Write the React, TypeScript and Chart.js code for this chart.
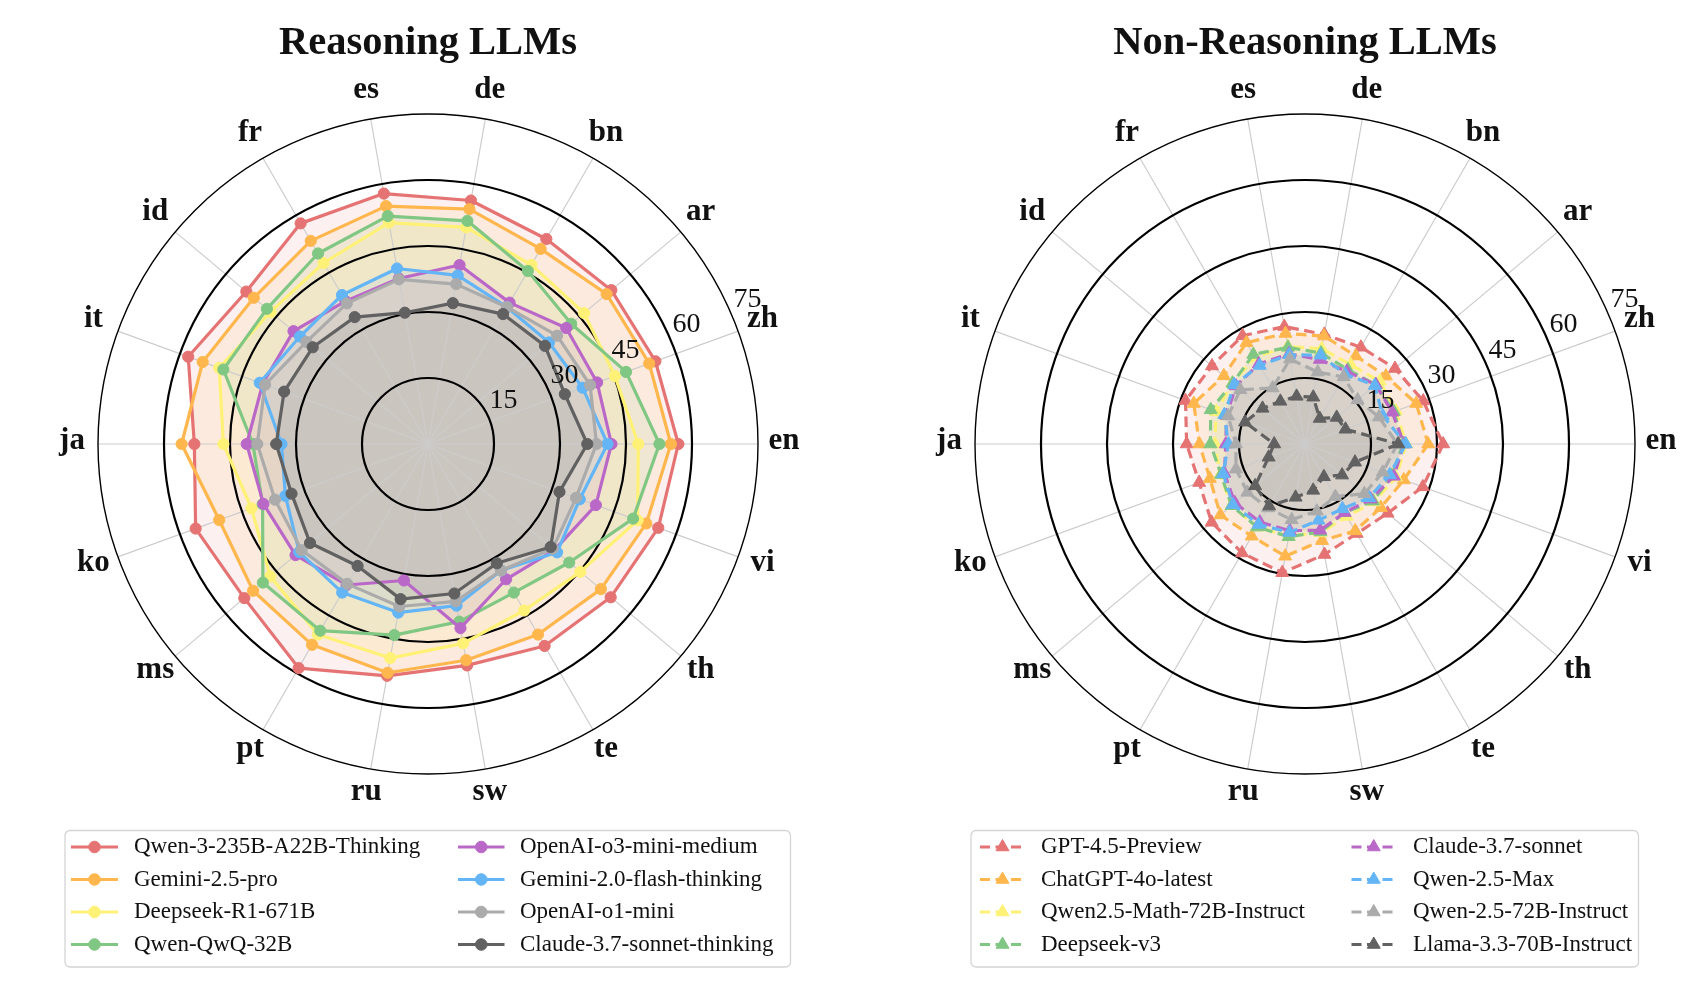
import React, { useEffect, useRef } from "react";
import { Chart, registerables } from "chart.js";

Chart.register(...registerables);

// ---------- data ----------
const categories = ["en", "zh", "ar", "bn", "de", "es", "fr", "id", "it", "ja", "ko", "ms", "pt", "ru", "sw", "te", "th", "vi"];
const radialTicks = [15, 30, 45, 60, 75];

const seriesColors = ["#e57373", "#ffb74d", "#fff176", "#81c784", "#ba68c8", "#64b5f6", "#ababab", "#616161"];

// Reasoning LLMs
const reasoningNames = [
  "Qwen-3-235B-A22B-Thinking",
  "Gemini-2.5-pro",
  "Deepseek-R1-671B",
  "Qwen-QwQ-32B",
  "OpenAI-o3-mini-medium",
  "Gemini-2.0-flash-thinking",
  "OpenAI-o1-mini",
  "Claude-3.7-sonnet-thinking",
];
const qwen3Thinking = [56.9, 55.0, 54.4, 53.8, 56.2, 57.8, 57.9, 53.9, 58.0, 53.1, 56.2, 54.5, 58.8, 53.5, 51.1, 53.0, 54.2, 55.7];
const gemini25Pro = [55.2, 53.5, 53.0, 51.2, 54.2, 54.9, 53.3, 51.7, 54.5, 56.0, 50.5, 51.9, 52.7, 52.8, 49.9, 50.0, 51.3, 52.8];
const deepseekR1 = [47.8, 45.2, 46.3, 47.0, 50.0, 51.1, 47.5, 46.7, 50.5, 46.5, 42.7, 46.8, 50.0, 49.4, 46.0, 43.7, 45.2, 50.7];
const qwenQwq = [52.6, 47.9, 42.5, 45.4, 51.5, 52.6, 50.0, 47.8, 49.5, 39.8, 40.0, 49.0, 49.0, 44.1, 41.0, 39.0, 41.9, 49.6];
const o3MiniMedium = [41.7, 40.9, 41.0, 37.1, 41.3, 38.2, 37.5, 39.9, 40.0, 41.2, 39.8, 39.3, 37.0, 31.5, 42.5, 35.5, 37.5, 40.6];
const gemini20Flash = [40.8, 37.4, 35.9, 35.9, 38.9, 40.5, 39.1, 38.0, 40.7, 33.3, 34.5, 38.2, 39.0, 38.9, 37.3, 33.2, 38.3, 36.7];
const o1Mini = [38.3, 39.2, 38.3, 35.9, 36.9, 38.0, 36.9, 36.1, 39.4, 38.8, 37.0, 37.5, 36.7, 37.5, 36.3, 33.2, 37.0, 35.8];
const claude37Thinking = [36.2, 33.1, 34.7, 34.1, 32.5, 30.3, 33.3, 34.2, 34.8, 34.5, 33.0, 35.0, 32.0, 35.8, 34.5, 31.3, 36.4, 31.8];

// Non-Reasoning LLMs
const nonReasoningNames = [
  "GPT-4.5-Preview",
  "ChatGPT-4o-latest",
  "Qwen2.5-Math-72B-Instruct",
  "Deepseek-v3",
  "Claude-3.7-sonnet",
  "Qwen-2.5-Max",
  "Qwen-2.5-72B-Instruct",
  "Llama-3.3-70B-Instruct",
];
const gpt45Preview = [31.4, 28.6, 26.7, 25.4, 25.3, 27.1, 28.4, 27.6, 28.9, 26.9, 25.6, 27.7, 28.6, 29.7, 25.5, 23.5, 24.5, 28.5];
const chatgpt4oLatest = [28.0, 26.9, 24.0, 23.1, 24.9, 25.5, 26.6, 24.1, 26.9, 24.0, 23.0, 25.1, 24.2, 25.9, 22.3, 22.8, 22.5, 23.9];
const qwenMath72B = [23.0, 22.0, 22.2, 20.8, 22.0, 22.5, 22.8, 21.5, 21.5, 20.5, 20.5, 21.8, 21.8, 21.3, 20.5, 19.0, 20.5, 22.0];
const deepseekV3 = [22.3, 21.5, 21.0, 19.5, 21.0, 22.3, 23.5, 21.5, 22.8, 21.5, 20.3, 21.8, 21.8, 21.4, 20.3, 18.0, 20.2, 21.0];
const claude37Sonnet = [22.5, 21.1, 21.0, 19.0, 19.5, 20.8, 21.0, 20.5, 19.0, 18.0, 19.5, 20.8, 20.5, 20.0, 19.9, 18.0, 19.5, 21.5];
const qwen25Max = [22.9, 18.8, 20.7, 18.3, 20.5, 20.6, 20.6, 21.0, 19.5, 17.4, 19.8, 21.4, 21.1, 20.4, 17.6, 17.0, 19.0, 20.5];
const qwen25_72B = [21.0, 17.9, 15.6, 17.6, 16.6, 19.6, 14.7, 19.2, 18.6, 15.7, 16.7, 17.1, 16.8, 17.5, 15.5, 13.8, 17.6, 18.8];
const llama33_70B = [21.2, 9.8, 9.4, 6.7, 10.8, 11.0, 11.2, 12.6, 14.5, 7.0, 8.8, 14.8, 16.3, 12.3, 10.7, 8.6, 11.0, 12.1];

const reasoningValues = [qwen3Thinking, gemini25Pro, deepseekR1, qwenQwq, o3MiniMedium, gemini20Flash, o1Mini, claude37Thinking];
const nonReasoningValues = [gpt45Preview, chatgpt4oLatest, qwenMath72B, deepseekV3, claude37Sonnet, qwen25Max, qwen25_72B, llama33_70B];

// ---------- styling ----------
const FONT = "'Liberation Serif', 'DejaVu Serif', serif";
const FILL_ALPHA = 0.11;
const H = 983;

type Series = { name: string; color: string; values: number[] };
type LegendCol = { x0: number; x1: number; text: number };
type PanelSpec = {
  key: string;
  title: string;
  left: number;
  width: number;
  padL: number;
  padR: number;
  dashed: boolean;
  marker: "circle" | "triangle";
  series: Series[];
  legendBox: [number, number, number, number];
  legendRows: number[];
  legendCols: LegendCol[];
};

function rgba(hex: string, a: number) {
  const n = parseInt(hex.slice(1), 16);
  return `rgba(${(n >> 16) & 255},${(n >> 8) & 255},${n & 255},${a})`;
}

// categories run counter-clockwise from "en" at 3 o'clock; Chart.js runs clockwise
function toChartOrder<T>(arr: T[]): T[] {
  return [arr[0], ...arr.slice(1).reverse()];
}

function drawMarker(ctx: CanvasRenderingContext2D, kind: string, x: number, y: number, r: number) {
  ctx.beginPath();
  if (kind === "triangle") {
    let a = 0;
    ctx.moveTo(x + Math.sin(a) * r, y - Math.cos(a) * r);
    a += (2 * Math.PI) / 3;
    ctx.lineTo(x + Math.sin(a) * r, y - Math.cos(a) * r);
    a += (2 * Math.PI) / 3;
    ctx.lineTo(x + Math.sin(a) * r, y - Math.cos(a) * r);
    ctx.closePath();
  } else {
    ctx.arc(x, y, r, 0, Math.PI * 2);
  }
  ctx.fill();
  ctx.stroke();
}

function makeDecor(spec: PanelSpec) {
  return {
    id: "decor-" + spec.key,
    afterDatasetDraw(chart: any, args: any) {
      if (args.index !== spec.series.length - 1) return; // after last fill
      const scale = chart.scales.r;
      const ctx: CanvasRenderingContext2D = chart.ctx;
      ctx.save();
      const outer = scale.getDistanceFromCenterForValue(scale.max);
      ctx.strokeStyle = "#cccccc";
      ctx.lineWidth = 1.2;
      for (let i = 0; i < chart.data.labels.length; i++) {
        const p = scale.getPointPosition(i, outer);
        ctx.beginPath();
        ctx.moveTo(scale.xCenter, scale.yCenter);
        ctx.lineTo(p.x, p.y);
        ctx.stroke();
      }
      ctx.strokeStyle = "#000000";
      scale.ticks.forEach((t: any) => {
        if (t.value <= scale.min) return;
        const r = scale.getDistanceFromCenterForValue(t.value);
        ctx.lineWidth = t.value >= scale.max ? 1.4 : 2.2;
        ctx.beginPath();
        ctx.arc(scale.xCenter, scale.yCenter, r, 0, Math.PI * 2);
        ctx.stroke();
      });
      ctx.restore();
    },
    afterDatasetsDraw(chart: any) {
      const scale = chart.scales.r;
      const ctx: CanvasRenderingContext2D = chart.ctx;
      ctx.save();
      const ang = (22.5 * Math.PI) / 180;
      ctx.font = `28px ${FONT}`;
      ctx.fillStyle = "#111111";
      ctx.textAlign = "left";
      ctx.textBaseline = "middle";
      for (const v of radialTicks) {
        const r = scale.getDistanceFromCenterForValue(v);
        ctx.fillText(String(v), scale.xCenter + Math.cos(ang) * r + 0.5, scale.yCenter - Math.sin(ang) * r - 18);
      }
      ctx.restore();
    },
    afterDraw(chart: any) {
      const scale = chart.scales.r;
      const ctx: CanvasRenderingContext2D = chart.ctx;
      ctx.save();
      // point labels
      ctx.font = `bold 31px ${FONT}`;
      ctx.fillStyle = "#111111";
      ctx.textAlign = "center";
      ctx.textBaseline = "middle";
      chart.data.labels.forEach((lab: string, i: number) => {
        const p = scale.getPointPosition(i, scale.drawingArea + 26);
        ctx.fillText(lab, p.x, p.y - 3);
      });
      // title
      ctx.font = `bold 40.5px ${FONT}`;
      ctx.textBaseline = "alphabetic";
      ctx.fillText(spec.title, scale.xCenter, 54);
      // legend
      const [bx0, by0, bx1, by1] = spec.legendBox;
      ctx.beginPath();
      const rr = 5;
      ctx.moveTo(bx0 + rr, by0);
      ctx.arcTo(bx1, by0, bx1, by1, rr);
      ctx.arcTo(bx1, by1, bx0, by1, rr);
      ctx.arcTo(bx0, by1, bx0, by0, rr);
      ctx.arcTo(bx0, by0, bx1, by0, rr);
      ctx.closePath();
      ctx.fillStyle = "rgba(255,255,255,0.85)";
      ctx.fill();
      ctx.strokeStyle = "#d4d4d4";
      ctx.lineWidth = 1.3;
      ctx.stroke();
      spec.series.forEach((s, k) => {
        const col = spec.legendCols[Math.floor(k / 4)];
        const y = spec.legendRows[k % 4];
        ctx.strokeStyle = s.color;
        ctx.lineWidth = 3;
        ctx.lineCap = "butt";
        ctx.setLineDash(spec.dashed ? [10, 5.5] : []);
        ctx.beginPath();
        ctx.moveTo(col.x0, y);
        ctx.lineTo(col.x1, y);
        ctx.stroke();
        ctx.setLineDash([]);
        ctx.fillStyle = s.color;
        ctx.lineWidth = 1;
        drawMarker(ctx, spec.marker, (col.x0 + col.x1) / 2, y, spec.marker === "triangle" ? 7.5 : 5.8);
        ctx.fillStyle = "#111111";
        ctx.font = `23px ${FONT}`;
        ctx.textAlign = "left";
        ctx.textBaseline = "middle";
        ctx.fillText(s.name, col.text, y);
      });
      ctx.restore();
    },
  };
}

function buildConfig(spec: PanelSpec): any {
  const datasets: any[] = [];
  spec.series.forEach((s, k) => {
    datasets.push({
      label: s.name + " area",
      data: toChartOrder(s.values),
      backgroundColor: rgba(s.color, FILL_ALPHA),
      borderColor: "rgba(0,0,0,0)",
      borderWidth: 0,
      pointRadius: 0,
      pointHoverRadius: 0,
      fill: "origin",
      order: 200 - k,
    });
  });
  const pr = spec.marker === "triangle" ? 7.5 : 5.6;
  spec.series.forEach((s, k) => {
    datasets.push({
      label: s.name,
      data: toChartOrder(s.values),
      borderColor: s.color,
      borderWidth: 3.2,
      borderDash: spec.dashed ? [10.5, 5.5] : [],
      borderJoinStyle: "round",
      borderCapStyle: "butt",
      pointStyle: spec.marker,
      pointRadius: pr,
      pointHoverRadius: pr,
      pointBackgroundColor: s.color,
      pointBorderColor: s.color,
      pointBorderWidth: 1,
      fill: false,
      tension: 0,
      order: 100 - k,
    });
  });
  return {
    type: "radar",
    data: { labels: toChartOrder(categories), datasets },
    options: {
      responsive: false,
      animation: false,
      events: [],
      layout: { padding: { left: spec.padL, right: spec.padR, top: 114, bottom: 209 } },
      plugins: { legend: { display: false }, tooltip: { enabled: false }, title: { display: false } },
      scales: {
        r: {
          min: 0,
          max: 75,
          startAngle: 90,
          ticks: { stepSize: 15, display: false },
          grid: { display: false },
          angleLines: { display: false },
          pointLabels: { display: false },
        },
      },
    },
    plugins: [makeDecor(spec)],
  };
}

const panels: PanelSpec[] = [
  {
    key: "reasoning",
    title: "Reasoning LLMs",
    left: 0,
    width: 856,
    padL: 98,
    padR: 98,
    dashed: false,
    marker: "circle",
    series: reasoningNames.map((name, i) => ({ name, color: seriesColors[i], values: reasoningValues[i] })),
    legendBox: [65, 830.5, 790.5, 967],
    legendRows: [847, 879.5, 912, 944.5],
    legendCols: [
      { x0: 71, x1: 118, text: 134 },
      { x0: 458, x1: 504.5, text: 520 },
    ],
  },
  {
    key: "nonreasoning",
    title: "Non-Reasoning LLMs",
    left: 913,
    width: 785,
    padL: 62,
    padR: 63,
    dashed: true,
    marker: "triangle",
    series: nonReasoningNames.map((name, i) => ({ name, color: seriesColors[i], values: nonReasoningValues[i] })),
    legendBox: [58, 830.5, 725.5, 967],
    legendRows: [847, 879.5, 912, 944.5],
    legendCols: [
      { x0: 67, x1: 112, text: 128 },
      { x0: 438.5, x1: 483, text: 500 },
    ],
  },
];

function RadarPanel({ spec }: { spec: PanelSpec }) {
  const ref = useRef<HTMLCanvasElement | null>(null);
  useEffect(() => {
    if (!ref.current) return;
    const chart = new Chart(ref.current, buildConfig(spec));
    return () => chart.destroy();
  }, [spec]);
  return (
    <canvas
      ref={ref}
      width={spec.width}
      height={H}
      style={{ position: "absolute", left: spec.left, top: 0, width: spec.width, height: H }}
    />
  );
}

export default function App() {
  return (
    <div style={{ position: "fixed", left: 0, top: 0, width: 1698, height: H, background: "#ffffff", overflow: "hidden" }}>
      {panels.map((p) => (
        <RadarPanel key={p.key} spec={p} />
      ))}
    </div>
  );
}
